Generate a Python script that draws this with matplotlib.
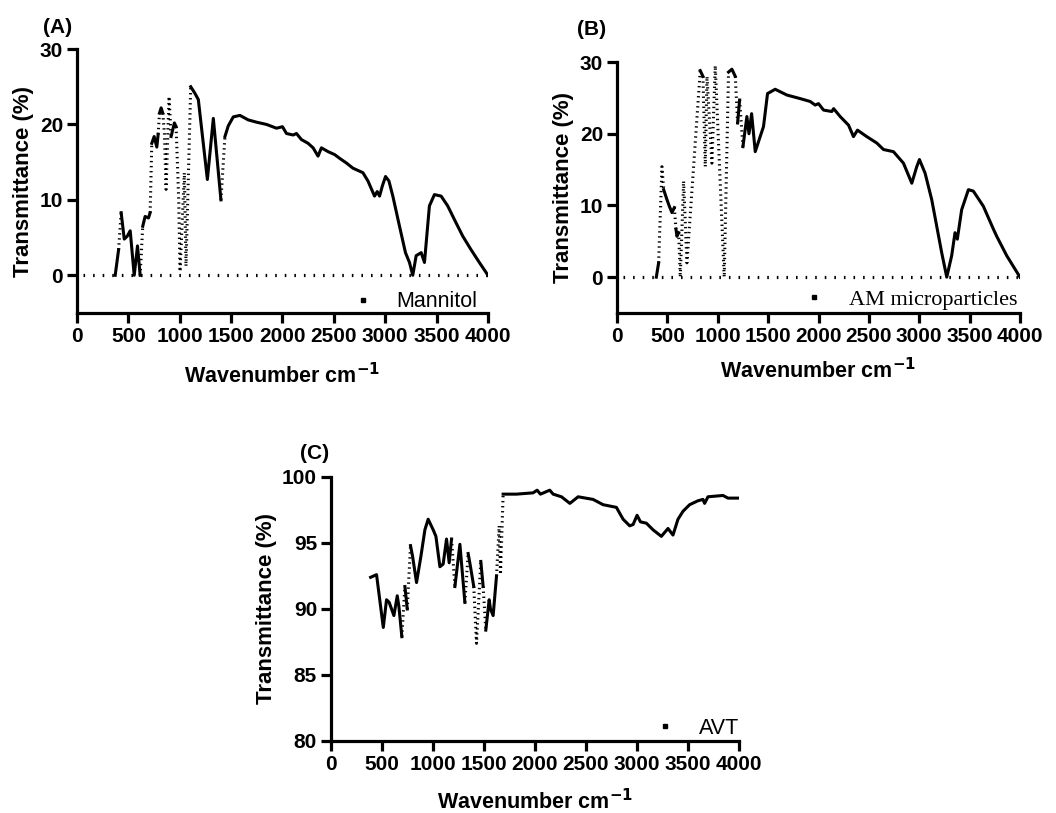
import numpy as np
import matplotlib
matplotlib.use("Agg")
import matplotlib.pyplot as plt
from matplotlib.lines import Line2D

matplotlib.rcParams.update({
    'font.family': 'Liberation Sans',
    'font.size': 15,
    'font.weight': 'bold',
})

# ---- data ----
mannitol_x = [372, 405, 430, 460, 490, 518, 557, 589, 615, 640, 663, 696, 712, 728, 751,
              777, 790, 803, 819, 835, 851, 867, 896, 916, 948, 965, 990, 1003, 1045, 1061,
              1107, 1149, 1181, 1269, 1327, 1401, 1440, 1472, 1521, 1586, 1667, 1748, 1845,
              1942, 2000, 2039, 2104, 2136, 2184, 2249, 2298, 2346, 2379, 2443, 2508, 2557,
              2621, 2686, 2751, 2783, 2832, 2896, 2922, 2945, 2971, 3003, 3036, 3074, 3139,
              3197, 3236, 3268, 3301, 3350, 3382, 3430, 3479, 3544, 3608, 3673, 3754, 3835,
              3916, 4000]
mannitol_y = [0.0, 3.4, 8.3, 4.8, 5.2, 5.9, 0.0, 3.9, 0.0, 6.5, 7.8, 7.6, 8.3, 17.5, 18.4,
              17.0, 18.7, 21.5, 22.2, 21.5, 18.8, 11.4, 23.7, 18.4, 20.2, 19.7, 10.0, 0.5, 13.6, 1.2,
              25.0, 24.1, 23.3, 12.7, 20.8, 10.0, 18.4, 19.8, 21.0, 21.2, 20.6, 20.3, 20.0,
              19.5, 19.7, 18.8, 18.6, 18.8, 18.0, 17.5, 16.9, 15.8, 16.9, 16.4, 16.0, 15.5,
              14.9, 14.2, 13.8, 13.6, 12.5, 10.5, 11.1, 10.5, 11.8, 13.1, 12.5, 10.5, 6.5,
              3.0, 1.7, 0.0, 2.6, 3.0, 1.7, 9.2, 10.7, 10.5, 9.2, 7.4, 5.2, 3.4,
              1.7, 0.0]

am_x = [390, 413, 446, 463, 496, 519, 545, 569, 585, 595, 612, 628, 661, 694, 826, 853,
        876, 893, 942, 975, 1064, 1107, 1140, 1174, 1197, 1217, 1250, 1289, 1310, 1336,
        1372, 1421, 1454, 1494, 1570, 1686, 1818, 1917, 1967, 2000, 2050, 2132, 2150,
        2215, 2298, 2347, 2387, 2479, 2579, 2645, 2744, 2843, 2926, 2975, 3002, 3058,
        3124, 3223, 3273, 3322, 3355, 3378, 3421, 3488, 3537, 3636, 3736, 3769, 3868, 4000]
am_y = [0.0, 2.0, 15.4, 12.2, 10.8, 9.9, 9.0, 9.7, 6.7, 5.7, 6.2, 0.0, 13.4, 2.0, 28.8, 28.0,
        15.4, 28.0, 15.9, 29.5, 0.0, 28.6, 29.0, 28.0, 21.5, 24.7, 18.2, 22.4, 20.0, 22.8,
        17.5, 19.6, 21.0, 25.6, 26.2, 25.4, 24.9, 24.5, 24.0, 24.2, 23.3, 23.1, 23.5,
        22.4, 21.2, 19.6, 20.5, 19.6, 18.7, 17.8, 17.5, 15.9, 13.1, 15.4, 16.4, 14.5,
        10.8, 3.4, 0.0, 3.0, 6.2, 5.3, 9.4, 12.2, 12.0, 9.9, 6.7, 5.7, 3.0, 0.0]

avt_x = [389, 447, 513, 545, 571, 617, 650, 666, 695, 725, 748, 780, 800, 839, 882, 921,
         953, 1002, 1029, 1068, 1100, 1133, 1159, 1182, 1215, 1264, 1313, 1345, 1368, 1400,
         1427, 1469, 1492, 1518, 1551, 1564, 1590, 1623, 1649, 1662, 1688, 1819, 1982,
         2021, 2054, 2145, 2178, 2260, 2342, 2423, 2570, 2668, 2798, 2864, 2929, 2962,
         3001, 3034, 3092, 3157, 3239, 3304, 3353, 3402, 3451, 3516, 3598, 3647, 3663,
         3696, 3843, 3892, 4000]
avt_y = [92.4, 92.6, 88.6, 90.7, 90.5, 89.5, 91.0, 90.2, 87.9, 91.7, 90.0, 94.8, 94.0, 92.0,
         94.0, 96.0, 96.8, 96.0, 95.5, 93.2, 93.4, 95.3, 93.5, 95.3, 91.7, 94.9, 90.5, 94.2,
         93.2, 91.7, 87.4, 93.6, 91.7, 88.4, 90.7, 90.0, 89.5, 92.5, 96.3, 92.6, 98.7, 98.7,
         98.8, 99.0, 98.7, 99.0, 98.7, 98.5, 98.0, 98.5, 98.3, 97.9, 97.7, 96.8, 96.3, 96.4,
         97.1, 96.6, 96.5, 96.0, 95.5, 96.1, 95.6, 96.8, 97.4, 97.9, 98.2, 98.3, 98.0,
         98.5, 98.6, 98.4, 98.4]

x_ticks = [0, 500, 1000, 1500, 2000, 2500, 3000, 3500, 4000]


def style_axes(ax, ylim, yticks, xpad):
    ax.set_xlim(0, 4000)
    ax.set_ylim(*ylim)
    ax.set_xticks(x_ticks)
    ax.set_yticks(yticks)
    for s in ['top', 'right']:
        ax.spines[s].set_visible(False)
    for s in ['left', 'bottom']:
        ax.spines[s].set_linewidth(2.3)
    ax.tick_params(direction='out', length=7, width=2.3, labelsize=15, pad=3)
    for lbl in ax.get_xticklabels() + ax.get_yticklabels():
        lbl.set_fontweight('bold')
    ax.set_xlabel('Wavenumber cm$^{\\mathbf{-1}}$', fontsize=15.5, fontweight='bold', labelpad=xpad)
    ax.set_ylabel('Transmittance (%)', fontsize=16, fontweight='bold', labelpad=4)


def plot_spectrum(ax, xs, ys):
    # steep stretches of the scan look dotted (sparse samples), flat ones solid
    pts = ax.transData.transform(np.column_stack([xs, ys]))
    d = np.diff(pts, axis=0)
    steep = np.abs(d[:, 1]) > 12 * np.maximum(np.abs(d[:, 0]), 1e-6)
    start = 0
    for i in range(1, len(steep) + 1):
        if i == len(steep) or steep[i] != steep[start]:
            seg = slice(start, i + 1)
            if steep[start]:
                ax.plot(xs[seg], ys[seg], color='black', lw=2.2, ls=(0, (0.45, 1.2)))
            else:
                ax.plot(xs[seg], ys[seg], color='black', lw=2.2, solid_joinstyle='round')
            start = i


def add_legend(ax, name, family, size, anchor):
    h = Line2D([], [], ls='none', marker='s', ms=2.2, color='black')
    ax.legend([h], [name], loc='center right', bbox_to_anchor=anchor, frameon=False,
              borderpad=0, borderaxespad=0, handlelength=0.4, handletextpad=1.35,
              prop={'family': family, 'size': size, 'weight': 'normal'})


fig = plt.figure(figsize=(10.56, 8.13), dpi=100)

axA = fig.add_axes([0.0729, 0.615, 0.3892, 0.3247])
style_axes(axA, (-5, 30), [0, 10, 20, 30], 12)
axA.axhline(0, xmin=0.015, xmax=1, color='black', lw=2.3, ls=(0, (0.5, 2.5)))
plot_spectrum(axA, mannitol_x, mannitol_y)
add_legend(axA, 'Mannitol', 'Liberation Sans', 15.5, (0.973, 0.042))
fig.text(0.041, 0.959, '(A)', fontsize=15, fontweight='bold')

axB = fig.add_axes([0.5843, 0.615, 0.3816, 0.3087])
style_axes(axB, (-5, 30), [0, 10, 20, 30], 9)
axB.axhline(0, xmin=0.015, xmax=1, color='black', lw=2.3, ls=(0, (0.5, 2.5)))
plot_spectrum(axB, am_x, am_y)
add_legend(axB, 'AM microparticles', 'Liberation Serif', 16, (0.993, 0.052))
fig.text(0.546, 0.957, '(B)', fontsize=15, fontweight='bold')

axC = fig.add_axes([0.3134, 0.0886, 0.3864, 0.3247])
style_axes(axC, (80, 100), [80, 85, 90, 95, 100], 11)
plot_spectrum(axC, avt_x, avt_y)
add_legend(axC, 'AVT', 'Liberation Sans', 15.5, (1.0, 0.049))
fig.text(0.284, 0.436, '(C)', fontsize=15, fontweight='bold')

plt.savefig('out.png', dpi=100)
